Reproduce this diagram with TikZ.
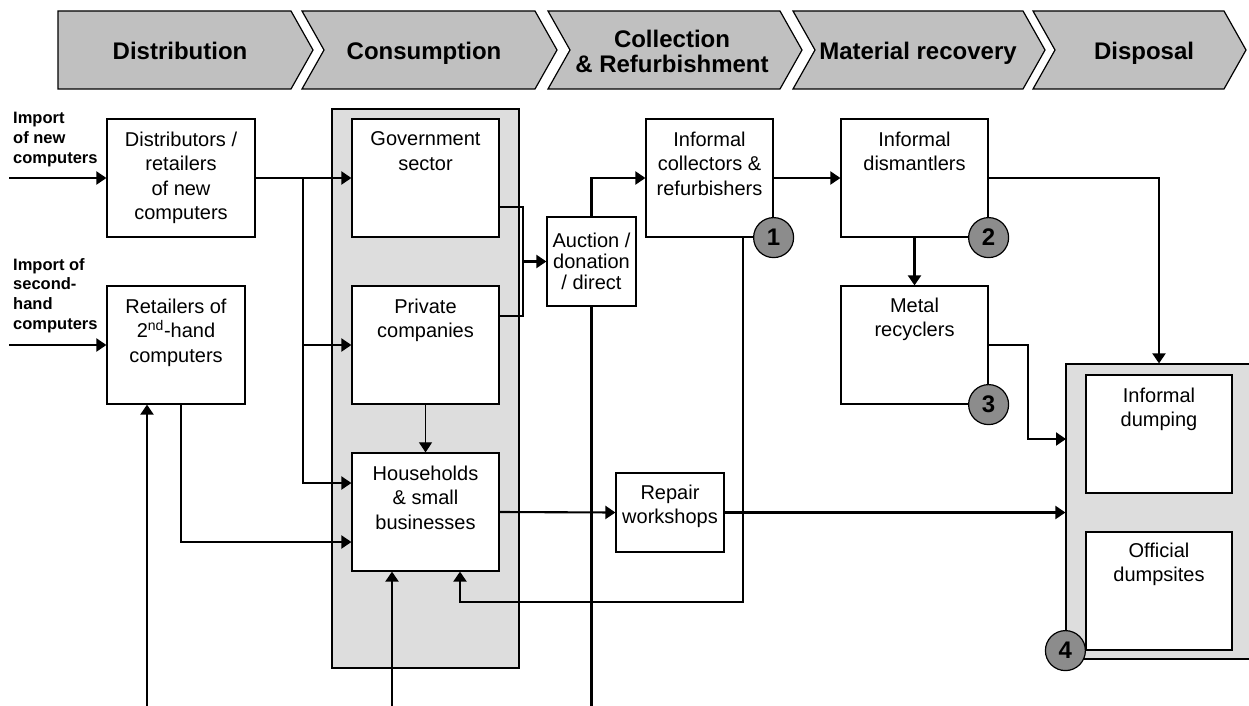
\documentclass[tikz,border=0pt]{standalone}
\usepackage{fontspec}
\setmainfont{Liberation Sans}
\usetikzlibrary{arrows.meta,positioning}
\definecolor{chevgrey}{RGB}{192,192,192}
\definecolor{panelgrey}{RGB}{221,221,221}
\definecolor{badgegrey}{RGB}{140,140,140}
\tikzset{
  box/.style={draw,line width=1.2pt,fill=white,inner sep=0pt},
  panel/.style={draw,line width=1.2pt,fill=panelgrey,inner sep=0pt},
  txt/.style={inner sep=0pt,align=center,font=\fontsize{20}{24.5}\selectfont},
  imptxt/.style={inner sep=0pt,align=left,anchor=north west,font=\fontsize{16.5}{19.8}\selectfont\bfseries},
  phase/.style={inner sep=0pt,align=center,text depth=0pt,font=\fontsize{24}{25}\selectfont\bfseries},
  badge/.style={draw,circle,line width=1.2pt,fill=badgegrey,minimum size=40pt,inner sep=0pt,font=\fontsize{24}{24}\selectfont\bfseries},
  flow/.style={line width=2.1pt,-{Triangle[length=10pt,width=13pt]}},
  link/.style={line width=2.1pt},
  thinlink/.style={line width=1.1pt},
}
\begin{document}
\begin{tikzpicture}[x=1pt,y=-1pt]
\useasboundingbox (0,0) rectangle (1249,706);

% phases
\foreach \l/\r/\cx/\n/\lab [count=\i] in {58/291/180/0/Distribution, 302/535/424/22/Consumption, 548/780/672/22/{Collection\\\& Refurbishment}, 793/1023/918/22/Material recovery, 1033/1224/1144/22/Disposal}{
  \draw[line width=1.2pt,fill=chevgrey] (\l,11) -- (\r,11) -- (\r+22,50) -- (\r,89) -- (\l,89) -- (\l+\n,50) -- cycle;
  \node[phase] (ph\i) at (\cx,51) {\lab};
}

% imports
\node[imptxt] (imp1) at (13,112) {Import\\of new\\computers};
\node[imptxt] (imp2) at (13,258) {Import of\\second-\\hand\\computers};

% grey panels
\node[panel,minimum width=187,minimum height=559] (cons) at (425.5,388.5) {};
\node[panel,minimum width=190,minimum height=295] (disp) at (1161,511.5) {};

% boxes
\node[box,minimum width=148,minimum height=118] (dist) at (181,178) {};
\node[box,minimum width=138,minimum height=118] (sec) at (176,345) {};
\node[box,minimum width=147,minimum height=118] (gov) at (425.5,178) {};
\node[box,minimum width=147,minimum height=118] (priv) at (425.5,345) {};
\node[box,minimum width=147,minimum height=118] (hh) at (425.5,512) {};
\node[box,minimum width=89,minimum height=89] (auc) at (591.5,261.5) {};
\node[box,minimum width=127,minimum height=118] (coll) at (709.5,178) {};
\node[box,minimum width=147,minimum height=118] (dism) at (914.5,178) {};
\node[box,minimum width=147,minimum height=118] (metal) at (914.5,345) {};
\node[box,minimum width=108,minimum height=79] (rep) at (670,512.5) {};
\node[box,minimum width=146,minimum height=118] (infd) at (1159,434) {};
\node[box,minimum width=146,minimum height=118] (offd) at (1159,591) {};

% box texts
\node[txt,below=13pt of dist.north] (distT) {Distributors /\\retailers\\of new\\computers};
\node[txt,below=13pt of sec.north] (secT) {Retailers of\\2\textsuperscript{nd}-hand\\computers};
\node[txt,below=13pt of gov.north] (govT) {Government\\sector};
\node[txt,below=13pt of priv.north] (privT) {Private\\companies};
\node[txt,below=13pt of hh.north] (hhT) {Households\\\& small\\businesses};
\node[txt,font=\fontsize{20}{21}\selectfont] (aucT) at (auc.center) {Auction /\\donation\\/ direct};
\node[txt,below=13pt of coll.north] (collT) {Informal\\collectors \&\\refurbishers};
\node[txt,below=13pt of dism.north] (dismT) {Informal\\dismantlers};
\node[txt,below=12pt of metal.north] (metalT) {Metal\\recyclers};
\node[txt,below=12pt of rep.north] (repT) {Repair\\workshops};
\node[txt,below=13pt of infd.north] (infdT) {Informal\\dumping};
\node[txt,below=11pt of offd.north] (offdT) {Official\\dumpsites};

% connectors
\coordinate (in1) at (9,178);
\coordinate (in2) at (9,345);
\coordinate (bot1) at (147,706);
\coordinate (bot2) at (392,706);
\coordinate (split) at (303,178);
\coordinate (merge) at (523,261.5);
\coordinate (back) at (743,602);
\coordinate (dropin) at (1066,439);

\draw[flow] (in1) -- (dist.west);
\draw[flow] (in2) -- (sec.west);
\draw[flow] (dist.east) -- (gov.west);
\draw[flow] (split) |- (priv.west);
\draw[flow] (split) |- ([yshift=29pt]hh.west);
\draw[flow] ([xshift=5pt]sec.south) |- ([yshift=-30pt]hh.west);
\draw[flow] (bot1) -- (bot1 |- sec.south);
\draw[flow] (bot2) -- (bot2 |- hh.south);
\draw[thinlink,-{Triangle[length=10pt,width=13pt]}] (priv.south) -- (hh.north);
\draw[thinlink] ([yshift=-29pt]gov.east) -| (merge) |- ([yshift=29pt]priv.east);
\draw[flow] (merge) -- (auc.west);
\draw[flow] (auc.north) |- (coll.west);
\draw[link] (auc.south) -- (auc.south |- bot1);
\draw[flow] (coll.east) -- (dism.west);
\draw[flow] ([xshift=33.5pt]coll.south) -- (back) -| ([xshift=34.5pt]hh.south);
\draw[flow] (dism.south) -- (metal.north);
\draw[flow] (dism.east) -| (infd.north |- disp.north);
\draw[flow] (metal.east) -- ++(39,0) |- (dropin);
\draw[flow] (hh.east) -- (rep.west);
\draw[flow] (rep.east) -- (rep.east -| disp.west);

% badges
\node[badge] (n1) at (coll.south east) {1};
\node[badge] (n2) at (dism.south east) {2};
\node[badge] (n3) at (metal.south east) {3};
\node[badge] (n4) at (disp.west |- offd.south) {4};

\end{tikzpicture}
\end{document}
